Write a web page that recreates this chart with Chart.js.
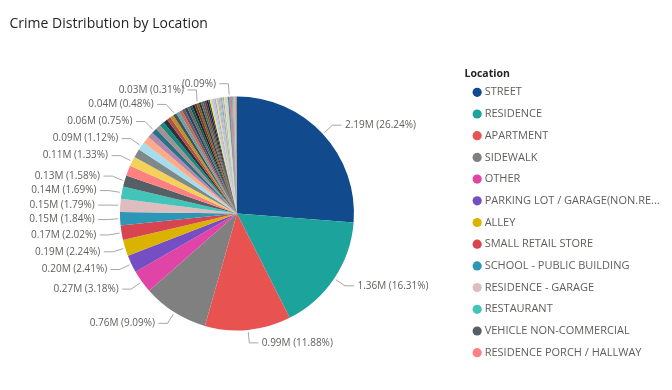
<!DOCTYPE html>
<html>
<head>
<meta charset="utf-8">
<script src="https://cdn.jsdelivr.net/npm/chart.js@4.4.1/dist/chart.umd.min.js"></script>
<style>
  html, body { margin: 0; padding: 0; background: #fff; }
  #wrap { width: 672px; height: 390px; }
</style>
</head>
<body>
<div id="wrap"><canvas id="chart" width="672" height="390"></canvas></div>
<script>
// Location categories, sorted by share (largest first)
const CATEGORIES = [
  'STREET', 'RESIDENCE', 'APARTMENT', 'SIDEWALK', 'OTHER',
  'PARKING LOT / GARAGE(NON.RESID.)', 'ALLEY', 'SMALL RETAIL STORE',
  'SCHOOL - PUBLIC BUILDING', 'RESIDENCE - GARAGE', 'RESTAURANT',
  'VEHICLE NON-COMMERCIAL', 'RESIDENCE PORCH / HALLWAY',
  'RESIDENCE - YARD (FRONT / BACK)', 'DEPARTMENT STORE', 'GROCERY FOOD STORE',
  'GAS STATION', 'COMMERCIAL / BUSINESS OFFICE', 'PARK PROPERTY',
  'CHA PARKING LOT / GROUNDS', 'CTA PLATFORM', 'BAR OR TAVERN', 'CHA APARTMENT',
  'DRUG STORE', 'CTA TRAIN', 'SCHOOL - PUBLIC GROUNDS', 'HOTEL / MOTEL',
  'CONVENIENCE STORE', 'HOSPITAL BUILDING / GROUNDS',
  'CHA HALLWAY / STAIRWELL / ELEVATOR', 'BANK', 'CTA BUS', 'VACANT LOT / LAND',
  'CTA BUS STOP', 'POLICE FACILITY / VEHICLE PARKING LOT',
  'CHURCH / SYNAGOGUE / PLACE OF WORSHIP', 'DRIVEWAY - RESIDENTIAL',
  'ABANDONED BUILDING', 'TAVERN / LIQUOR STORE', 'CTA STATION',
  'GOVERNMENT BUILDING / PROPERTY', 'NURSING / RETIREMENT HOME',
  'CURRENCY EXCHANGE', 'CONSTRUCTION SITE', 'WAREHOUSE', 'ATHLETIC CLUB',
  'MEDICAL / DENTAL OFFICE', 'SCHOOL - PRIVATE BUILDING',
  'COLLEGE / UNIVERSITY GROUNDS', 'LIBRARY', 'TAXICAB', 'MOVIE HOUSE / THEATER',
  'BARBERSHOP', 'APPLIANCE STORE', 'FACTORY / MANUFACTURING BUILDING',
  'CLEANING STORE', 'SPORTS ARENA / STADIUM', 'HIGHWAY / EXPRESSWAY',
  'AIRPORT TERMINAL UPPER LEVEL - SECURE AREA', 'AUTO / BOAT / RV DEALERSHIP',
  'DAY CARE CENTER', 'LAKEFRONT / WATERFRONT / RIVERBANK',
  'CTA TRACKS - RIGHT OF WAY', 'VEHICLE - COMMERCIAL', 'CAR WASH', 'PAWN SHOP',
  'JAIL / LOCK-UP FACILITY', 'FOREST PRESERVE', 'AIRPORT PARKING LOT',
  'OTHER RAILROAD PROPERTY / TRAIN DEPOT', 'SCHOOL - PRIVATE GROUNDS', 'HOUSE',
  'FIRE STATION', 'BOWLING ALLEY', 'COIN OPERATED MACHINE',
  'OTHER COMMERCIAL TRANSPORTATION', 'NEWSSTAND', 'ANIMAL HOSPITAL',
  'FEDERAL BUILDING', 'CREDIT UNION', 'BOAT / WATERCRAFT', 'BRIDGE', 'KENNEL',
  'SAVINGS AND LOAN', 'GARAGE / AUTO REPAIR'
];

// share of all crimes, in percent
const SHARES = [
  26.24, 16.31, 11.88, 9.09, 3.18, 2.41, 2.24, 2.02, 1.84, 1.79, 1.69, 1.58,
  1.40, 1.33, 1.20, 1.12, 1.00, 0.80, 0.75, 0.70, 0.65, 0.60, 0.52, 0.50, 0.48,
  0.45, 0.43, 0.41, 0.39, 0.37, 0.35, 0.34, 0.33, 0.31,
  0.29, 0.28, 0.27, 0.25, 0.24, 0.23, 0.22, 0.21, 0.20, 0.20, 0.19, 0.18,
  0.17, 0.16, 0.15, 0.14, 0.14, 0.13, 0.12, 0.12, 0.11, 0.10, 0.10, 0.09,
  0.08, 0.08, 0.07, 0.07, 0.06, 0.06, 0.05, 0.05, 0.05, 0.04, 0.04, 0.04, 0.04,
  0.03, 0.03, 0.03, 0.03, 0.02, 0.02, 0.02, 0.02, 0.02, 0.02, 0.01, 0.01, 0.01, 0.01
];

const TOTAL_M = 8.346; // total crimes, millions

// slices that carry a data label (the rest were hidden by Power BI)
const LABELLED = [
  'STREET', 'RESIDENCE', 'APARTMENT', 'SIDEWALK', 'OTHER',
  'PARKING LOT / GARAGE(NON.RESID.)', 'ALLEY', 'SMALL RETAIL STORE',
  'SCHOOL - PUBLIC BUILDING', 'RESIDENCE - GARAGE', 'RESTAURANT',
  'VEHICLE NON-COMMERCIAL', 'RESIDENCE - YARD (FRONT / BACK)',
  'GROCERY FOOD STORE', 'PARK PROPERTY', 'CTA TRAIN', 'CTA BUS STOP',
  'HIGHWAY / EXPRESSWAY'
];
// this one's value text is covered by its neighbour, only the percent shows
const PCT_ONLY = ['HIGHWAY / EXPRESSWAY'];

const LEGEND_COUNT = 13;

const PALETTE = [
  '#124A8E', '#1BA39C', '#E85352', '#808080', '#E044A7', '#744EC2', '#D9B300',
  '#D64550', '#2D96B7', '#DDBDBD', '#43C4B8', '#556066', '#FF8080',
  '#F4D25A', '#7F898A', '#A4DDEE', '#FDAB89', '#B687AC', '#28738A', '#A78F8F',
  '#168980', '#293537', '#BB4A4A', '#B59525', '#475052', '#6A9FB0', '#BD7150',
  '#7B4F71', '#1B4D5C', '#706060', '#0F5C55', '#1C2325', '#7D3231', '#796419',
  '#303637', '#476A75', '#7E4B36', '#52354C', '#0D262E', '#544848',
  '#E8E85C', '#9FD0F0', '#C8B4E8', '#B0B0B0', '#FFD27F', '#7FC8F8', '#D0A0D0',
  '#A8C878', '#6CA0DC', '#E0C0A0', '#90A4AE', '#F0E68C', '#B3C7E6', '#CCCCCC',
  '#D8BFD8', '#9ACD32'
];
const COLORS = CATEGORIES.map((_, i) => PALETTE[i % PALETTE.length]);

const FONT = '"Open Sans", "Segoe UI", sans-serif';

const outsideLabels = {
    id: 'outsideLabels',
    afterDatasetsDraw(chart) {
        const ctx = chart.ctx;
        const arcs = chart.getDatasetMeta(0).data;
        const sides = { left: [], right: [] };

        arcs.forEach((arc, i) => {
            if (!LABELLED.includes(CATEGORIES[i])) return;
            const mid = (arc.startAngle + arc.endAngle) / 2;
            const elbowR = arc.outerRadius + 13;
            sides[Math.cos(mid) < 0 ? 'left' : 'right'].push({
                i, arc, mid, elbowR,
                pctOnly: PCT_ONLY.includes(CATEGORIES[i]),
                y: arc.y + Math.sin(mid) * elbowR
            });
        });

        // push overlapping labels apart
        const gapMin = 14.5;
        Object.values(sides).forEach(list => {
            const spaced = list.filter(d => !d.pctOnly).sort((a, b) => a.y - b.y);
            for (let iter = 0; iter < 80; iter++) {
                for (let k = 1; k < spaced.length; k++) {
                    const gap = spaced[k].y - spaced[k - 1].y;
                    if (gap < gapMin) {
                        const push = (gapMin - gap) / 2;
                        spaced[k].y += push;
                        spaced[k - 1].y -= push;
                    }
                }
            }
        });

        ctx.save();
        ctx.font = '10px ' + FONT;
        ctx.textBaseline = 'middle';
        ctx.lineWidth = 1;
        ctx.strokeStyle = '#A6A6A6';
        ctx.fillStyle = '#605E5C';
        Object.entries(sides).forEach(([side, list]) => {
            const dir = side === 'left' ? -1 : 1;
            list.forEach(d => {
                const { x: cx, y: cy, outerRadius: r } = d.arc;
                const dy = d.y - cy;
                const ex = cx + dir * Math.sqrt(Math.max(d.elbowR * d.elbowR - dy * dy, 0));
                ctx.beginPath();
                ctx.moveTo(cx + Math.cos(d.mid) * (r + 2), cy + Math.sin(d.mid) * (r + 2));
                ctx.lineTo(ex, d.y);
                ctx.lineTo(ex + dir * 9, d.y);
                ctx.stroke();

                const share = SHARES[d.i];
                const pct = '(' + share.toFixed(2) + '%)';
                const text = d.pctOnly ? pct : (share * TOTAL_M / 100).toFixed(2) + 'M ' + pct;
                ctx.textAlign = side === 'left' ? 'right' : 'left';
                ctx.fillText(text, ex + dir * 12.5, d.y);
            });
        });
        ctx.restore();
    }
};

new Chart(document.getElementById('chart'), {
    type: 'pie',
    data: {
        labels: CATEGORIES,
        datasets: [{
            data: SHARES,
            backgroundColor: COLORS,
            borderWidth: 0,
            radius: 117
        }]
    },
    options: {
        responsive: false,
        animation: false,
        events: [],
        devicePixelRatio: 1,
        layout: { padding: { left: 9.5, right: 2.3, top: 0, bottom: 0 } },
        plugins: {
            title: {
                display: true,
                text: 'Crime Distribution by Location',
                align: 'start',
                color: '#252423',
                font: { family: FONT, size: 14, weight: 'normal' },
                padding: { top: 16.1, bottom: 4 }
            },
            legend: {
                position: 'right',
                align: 'start',
                title: {
                    display: true,
                    position: 'start',
                    text: 'Location',
                    color: '#252423',
                    font: { family: FONT, size: 10.5, weight: 'bold' },
                    padding: { top: 68.75, bottom: -5.25 }
                },
                labels: {
                    usePointStyle: true,
                    pointStyle: 'circle',
                    boxWidth: 4,
                    boxHeight: 6.5,
                    padding: 10.7,
                    color: '#605E5C',
                    font: { family: FONT, size: 11 },
                    generateLabels(chart) {
                        const ds = chart.data.datasets[0];
                        return chart.data.labels.slice(0, LEGEND_COUNT).map((name, i) => ({
                            text: name.length > 27 ? name.slice(0, 27) + '...' : name,
                            fillStyle: ds.backgroundColor[i],
                            strokeStyle: ds.backgroundColor[i],
                            fontColor: '#605E5C',
                            lineWidth: 0,
                            pointStyle: 'circle',
                            hidden: false,
                            index: i
                        }));
                    }
                }
            },
            tooltip: { enabled: false }
        }
    },
    plugins: [outsideLabels]
});
</script>
</body>
</html>
